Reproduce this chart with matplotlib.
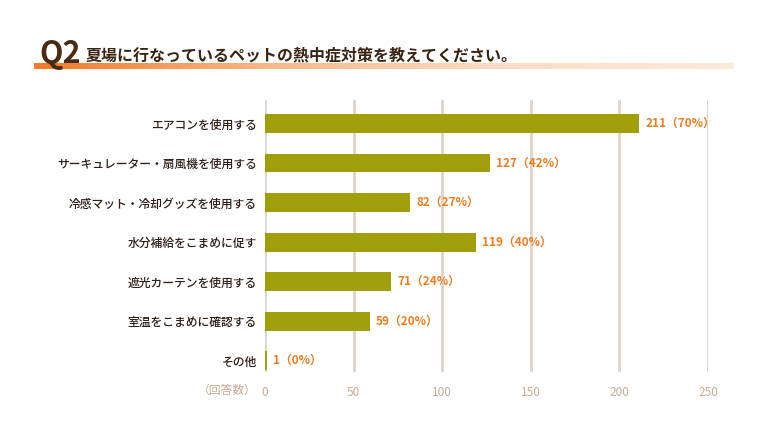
import numpy as np
import matplotlib
matplotlib.use("Agg")
import matplotlib.pyplot as plt
from matplotlib.colors import LinearSegmentedColormap

plt.rcParams['font.family'] = ['Noto Sans CJK JP', 'DejaVu Sans']

categories = ["エアコンを使用する", "サーキュレーター・扇風機を使用する", "冷感マット・冷却グッズを使用する",
              "水分補給をこまめに促す", "遮光カーテンを使用する", "室温をこまめに確認する", "その他"]
counts = [211, 127, 82, 119, 71, 59, 1]
percents = [70, 42, 27, 40, 24, 20, 0]
xticks = [0, 50, 100, 150, 200, 250]

fig = plt.figure(figsize=(7.68, 4.32), dpi=100)

# title band with gradient
band = fig.add_axes([34/768, 1-69/432, 700/768, 6/432])
cmap = LinearSegmentedColormap.from_list("band", ["#f07a28", "#f8b888", "#fcdcc4", "#fdeadb"])
band.imshow(np.linspace(0, 1, 256).reshape(1, -1), aspect='auto', cmap=cmap)
band.axis('off')
fig.text(39/768, 1-54/432, "Q2", fontsize=22, fontweight='bold', color='#4a2a12', va='center')
fig.text(86/768, 1-55/432, "夏場に行なっているペットの熱中症対策を教えてください。", fontsize=11.5,
         fontweight='bold', color='#3a2412', va='center')

ax = fig.add_axes([265/768, 1-372/432, 443/768, 272/432])
y = np.arange(len(categories))
ax.barh(y, counts, height=0.48, color='#a19e0b', zorder=3)
for i, (c, p) in enumerate(zip(counts, percents)):
    ax.text(c + 3.5, i, f"{c}（{p}%）", va='center', ha='left', fontsize=8.5,
            fontweight='bold', color='#f07d22', zorder=4)

ax.set_xlim(0, 250)
ax.set_ylim(6.29, -0.595)
ax.set_yticks(y)
ax.set_yticklabels(categories, fontsize=8.5, color='#2e2018', fontweight='medium')
ax.set_xticks(xticks)
ax.set_xticklabels([str(t) for t in xticks], fontsize=8.5, color='#c8aa90')
ax.tick_params(length=0)
ax.tick_params(axis='y', pad=6)
ax.tick_params(axis='x', pad=10)
for t in xticks:
    ax.axvline(t, color='#ddd3c8', linewidth=2, zorder=1)
for s in ax.spines.values():
    s.set_visible(False)
fig.text(257/768, 1-390/432, "（回答数）", fontsize=8.5, color='#c8aa90', ha='right', va='center')

fig.savefig("out.png", dpi=100)
